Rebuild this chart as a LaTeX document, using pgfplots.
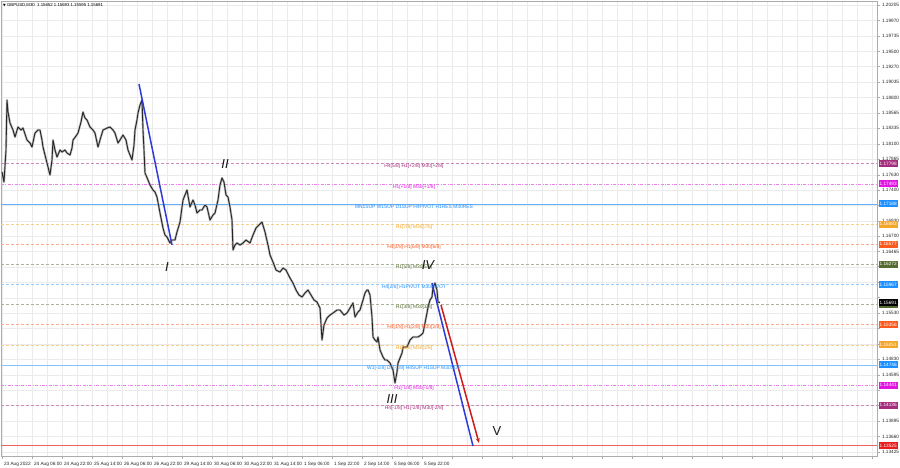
\documentclass[border=0pt]{standalone}
\usepackage{pgfplots}
\pgfplotsset{compat=1.18}
\usepackage{pgfplotstable}
\usepackage{fontspec}
\setmainfont{Liberation Sans}
\newfontfamily\dejavu{DejaVu Sans}
\usetikzlibrary{arrows.meta}
\definecolor{cPurple}{RGB}{165,45,125}
\definecolor{cMag}{RGB}{225,20,225}
\definecolor{cBlue}{RGB}{30,144,255}
\definecolor{cOrange}{RGB}{245,165,40}
\definecolor{cOrRed}{RGB}{250,90,30}
\definecolor{cOlive}{RGB}{85,107,47}
\definecolor{cRed}{RGB}{230,30,30}
\definecolor{cWave}{RGB}{45,60,215}
\pgfplotstableread{
x y
2 1.17672
4 1.17520
6 1.18006
7 1.18764
8 1.18582
10 1.18415
13 1.18309
15 1.18203
18 1.18354
21 1.18309
23 1.18339
25 1.18248
27 1.18157
30 1.18112
32 1.18051
35 1.18263
38 1.18309
40 1.18309
42 1.18157
43 1.18051
45 1.17930
47 1.17808
50 1.17626
52 1.17854
53 1.18157
55 1.18006
57 1.17899
60 1.18006
62 1.17975
65 1.18006
67 1.17960
70 1.17930
72 1.18036
73 1.18157
76 1.18218
78 1.18263
81 1.18430
83 1.18582
85 1.18491
87 1.18461
90 1.18354
93 1.18309
95 1.18263
98 1.18051
100 1.18157
103 1.18309
107 1.18339
110 1.18354
113 1.18309
115 1.18263
118 1.18112
120 1.18157
123 1.18233
126 1.18157
128 1.18006
130 1.17930
132 1.17854
134 1.18081
135 1.18309
137 1.18461
138 1.18567
140 1.18688
142 1.18764
143 1.18309
144 1.18006
145 1.17657
148 1.17550
150 1.17475
153 1.17399
155 1.17368
157 1.17292
160 1.17050
163 1.16822
165 1.16716
167 1.16686
170 1.16595
172 1.16640
175 1.16640
177 1.16762
180 1.16913
183 1.17247
185 1.17323
187 1.17399
190 1.17141
193 1.17247
195 1.17171
197 1.17050
200 1.17095
202 1.17095
205 1.17171
207 1.17141
210 1.16944
213 1.17019
215 1.17050
218 1.17247
220 1.17475
222 1.17581
224 1.17520
226 1.17323
228 1.17292
230 1.17141
232 1.16944
233 1.16489
235 1.16564
237 1.16595
240 1.16564
243 1.16595
246 1.16640
250 1.16595
253 1.16716
256 1.16822
259 1.16868
262 1.16913
265 1.16762
268 1.16564
270 1.16413
273 1.16307
276 1.16185
280 1.16155
283 1.16215
286 1.16185
290 1.16064
293 1.15988
296 1.15882
299 1.15806
302 1.15776
305 1.15836
308 1.15882
311 1.15806
314 1.15730
317 1.15700
320 1.15609
322 1.15123
324 1.15351
327 1.15457
330 1.15502
333 1.15533
337 1.15578
340 1.15578
344 1.15502
347 1.15533
350 1.15609
353 1.15685
355 1.15472
358 1.15548
360 1.15578
363 1.15730
365 1.15836
367 1.15882
368 1.15882
370 1.15806
372 1.15472
373 1.15169
375 1.15123
377 1.15093
378 1.15169
380 1.14972
383 1.14865
385 1.14820
387 1.14820
390 1.14774
393 1.14668
395 1.14471
397 1.14638
398 1.14774
400 1.14850
402 1.14926
403 1.15017
405 1.15017
407 1.15017
410 1.15123
413 1.15169
415 1.15169
418 1.15169
421 1.15199
423 1.15229
425 1.15381
427 1.15533
428 1.15624
430 1.15730
432 1.15776
433 1.15927
435 1.15988
436 1.15927
437 1.15882
438 1.15700
440 1.15691
}\pricedata
\begin{document}
\begin{tikzpicture}
\path[use as bounding box, fill=white] (0,0) rectangle (900pt,-468pt);
\begin{axis}[
 at={(1pt,-1pt)}, anchor=north west,
 scale only axis, width=876pt, height=455pt,
 xmin=1, xmax=877, ymin=1.13364, ymax=1.20266,
 clip=false,
 axis line style={gray!65, line width=0.6pt},
 tick style={gray!65, line width=0.5pt},
 tick align=outside, major tick length=2.5pt, minor tick length=0pt,
 xtick pos=lower, ytick pos=right, yticklabel pos=right,
 scaled y ticks=false,
 xtick={2,32,...,872},
 xticklabels={23 Aug 2022,24 Aug 06:00,24 Aug 22:00,25 Aug 14:00,26 Aug 06:00,26 Aug 22:00,29 Aug 14:00,30 Aug 06:00,30 Aug 22:00,31 Aug 14:00,1 Sep 06:00,1 Sep 22:00,2 Sep 14:00,5 Sep 06:00,5 Sep 22:00,{},{},{},{},{},{},{},{},{},{},{},{},{},{},{}},
 minor x tick num=1,
 ytick={1.13425,1.13660,1.13895,1.14130,1.14360,1.14595,1.14830,1.15065,1.15300,1.15530,1.15765,1.16000,1.16235,1.16465,1.16700,1.16930,1.17165,1.17400,1.17630,1.17865,1.18100,1.18335,1.18565,1.18800,1.19035,1.19270,1.19500,1.19735,1.19970,1.20205},
 yticklabels={1.13425,1.13660,1.13895,{},{},1.14595,1.14830,{},{},1.15530,{},{},{},1.16465,1.16700,1.16930,{},1.17400,1.17630,1.17865,1.18100,1.18335,1.18565,1.18800,1.19035,1.19270,1.19500,1.19735,1.19970,1.20205},
 grid=both, grid style={gray!16, line width=0.4pt}, minor grid style={gray!16, line width=0.4pt},
 tick label style={font=\fontsize{4.7}{5}\selectfont, text=black!85},
 xticklabel style={anchor=north west, xshift=-1.5pt, yshift=-0.5pt},
 yticklabel style={anchor=west, xshift=-1pt},
]
% level lines
\addplot[cPurple!55, line width=0.5pt, dash pattern=on 3pt off 2pt] coordinates {(1,1.17798) (877,1.17798)};
\addplot[cMag!55, line width=0.5pt, dash pattern=on 3pt off 1.5pt on 0.8pt off 1.5pt] coordinates {(1,1.17493) (877,1.17493)};
\addplot[cBlue!70, line width=0.6pt] coordinates {(1,1.17188) (877,1.17188)};
\addplot[cOrange!55, line width=0.5pt, dash pattern=on 3pt off 2pt] coordinates {(1,1.16883) (877,1.16883)};
\addplot[cOrRed!50, line width=0.5pt, dash pattern=on 3pt off 2pt] coordinates {(1,1.16577) (877,1.16577)};
\addplot[cOlive!50, line width=0.5pt, dash pattern=on 3pt off 2pt] coordinates {(1,1.16272) (877,1.16272)};
\addplot[cBlue!45, line width=0.5pt, dash pattern=on 3pt off 2pt] coordinates {(1,1.15967) (877,1.15967)};
\addplot[cOlive!50, line width=0.5pt, dash pattern=on 3pt off 2pt] coordinates {(1,1.15663) (877,1.15663)};
\addplot[cOrRed!50, line width=0.5pt, dash pattern=on 3pt off 2pt] coordinates {(1,1.15356) (877,1.15356)};
\addplot[cOrange!55, line width=0.5pt, dash pattern=on 3pt off 2pt] coordinates {(1,1.15051) (877,1.15051)};
\addplot[cBlue!55, line width=0.5pt] coordinates {(1,1.14746) (877,1.14746)};
\addplot[cMag!55, line width=0.5pt, dash pattern=on 3pt off 1.5pt on 0.8pt off 1.5pt] coordinates {(1,1.14441) (877,1.14441)};
\addplot[cPurple!55, line width=0.5pt, dash pattern=on 3pt off 2pt] coordinates {(1,1.14136) (877,1.14136)};
\addplot[cRed!70, line width=0.6pt] coordinates {(1,1.13525) (877,1.13525)};
% price
\addplot[gray!55, line width=2.2pt, line join=round] table {\pricedata};
\addplot[black!85, line width=0.9pt, line join=round] table {\pricedata};
% wave lines
\addplot[cWave, line width=1.5pt] coordinates {(139,1.19007) (172,1.16564)};
\addplot[cWave, line width=1.5pt] coordinates {(432,1.15988) (473,1.13515)};
\addplot[cRed!90!black, line width=1.5pt, -{Stealth[length=5pt,width=4pt]}] coordinates {(441,1.15654) (479,1.13561)};
% level texts
\begin{scope}[every node/.style={anchor=north, inner sep=0.5pt, font=\fontsize{4.9}{5}\selectfont}]
\node[text=cPurple] at (axis cs:414,1.17798) {H4[5/8] H1[+2/8] M30[+2/8]};
\node[text=cMag] at (axis cs:414,1.17493) {H1[+1/8] M30[+1/8]};
\node[text=cBlue] at (axis cs:414,1.17188) {MN1SUP W1SUP D1SUP H4PIVOT H1RES M30RES};
\node[text=cOrange] at (axis cs:414,1.16883) {H1[7/8] M30[7/8]};
\node[text=cOrRed] at (axis cs:414,1.16577) {H4[3/8] H1[6/8] M30[6/8]};
\node[text=cOlive] at (axis cs:414,1.16272) {H1[5/8] M30[5/8]};
\node[text=cBlue] at (axis cs:414,1.15967) {H4[2/8] H1PIVOT M30PIVOT};
\node[text=cOlive] at (axis cs:414,1.15663) {H1[3/8] M30[3/8]};
\node[text=cOrRed] at (axis cs:414,1.15356) {H4[1/8] H1[2/8] M30[2/8]};
\node[text=cOrange] at (axis cs:414,1.15051) {H1[1/8] M30[1/8]};
\node[text=cBlue] at (axis cs:414,1.14746) {W1[-1/8] D1[-1/8] H4SUP H1SUP M30SUP};
\node[text=cMag] at (axis cs:414,1.14441) {H1[-1/8] M30[-1/8]};
\node[text=cPurple] at (axis cs:414,1.14136) {H4[-1/8] H1[-2/8] M30[-2/8]};
\end{scope}
% wave labels
\begin{scope}[every node/.style={font=\fontsize{13}{13}\selectfont\itshape, text=black!90, inner sep=0pt}]
\node at (axis cs:167,1.16231) {I};
\node at (axis cs:225,1.17793) {II};
\node at (axis cs:392,1.14228) {III};
\node at (axis cs:428,1.16261) {IV};
\node[font=\fontsize{13}{13}\selectfont] at (axis cs:497,1.13743) {V};
\end{scope}
% price boxes
\begin{scope}[every node/.style={anchor=west, xshift=1.5pt, inner sep=0.6pt, minimum height=7pt, minimum width=19pt, text=white, font=\fontsize{4.7}{5}\selectfont}]
\node[fill=cPurple] at (axis cs:877,1.17798) {1.17798};
\node[fill=cMag] at (axis cs:877,1.17493) {1.17493};
\node[fill=cBlue] at (axis cs:877,1.17188) {1.17188};
\node[fill=cOrange] at (axis cs:877,1.16883) {1.16883};
\node[fill=cOrRed] at (axis cs:877,1.16577) {1.16577};
\node[fill=cOlive] at (axis cs:877,1.16272) {1.16272};
\node[fill=cBlue] at (axis cs:877,1.15967) {1.15967};
\node[fill=cOlive] at (axis cs:877,1.15663) {1.15663};
\node[fill=black] at (axis cs:877,1.15691) {1.15691};
\node[fill=cOrRed] at (axis cs:877,1.15356) {1.15356};
\node[fill=cOrange] at (axis cs:877,1.15051) {1.15051};
\node[fill=cBlue] at (axis cs:877,1.14746) {1.14746};
\node[fill=cMag] at (axis cs:877,1.14441) {1.14441};
\node[fill=cPurple] at (axis cs:877,1.14136) {1.14136};
\node[fill=cRed] at (axis cs:877,1.13525) {1.13525};
\end{scope}
% header
\node[anchor=north west, inner sep=0pt, font=\fontsize{4.3}{5}\selectfont] at (rel axis cs:0,1) [xshift=2pt, yshift=-2.5pt] {{\dejavu\fontsize{3.5}{4}\selectfont ▼} GBPUSD,M30\ \ 1.15652 1.15693 1.15595 1.15691};
\end{axis}
\end{tikzpicture}
\end{document}
